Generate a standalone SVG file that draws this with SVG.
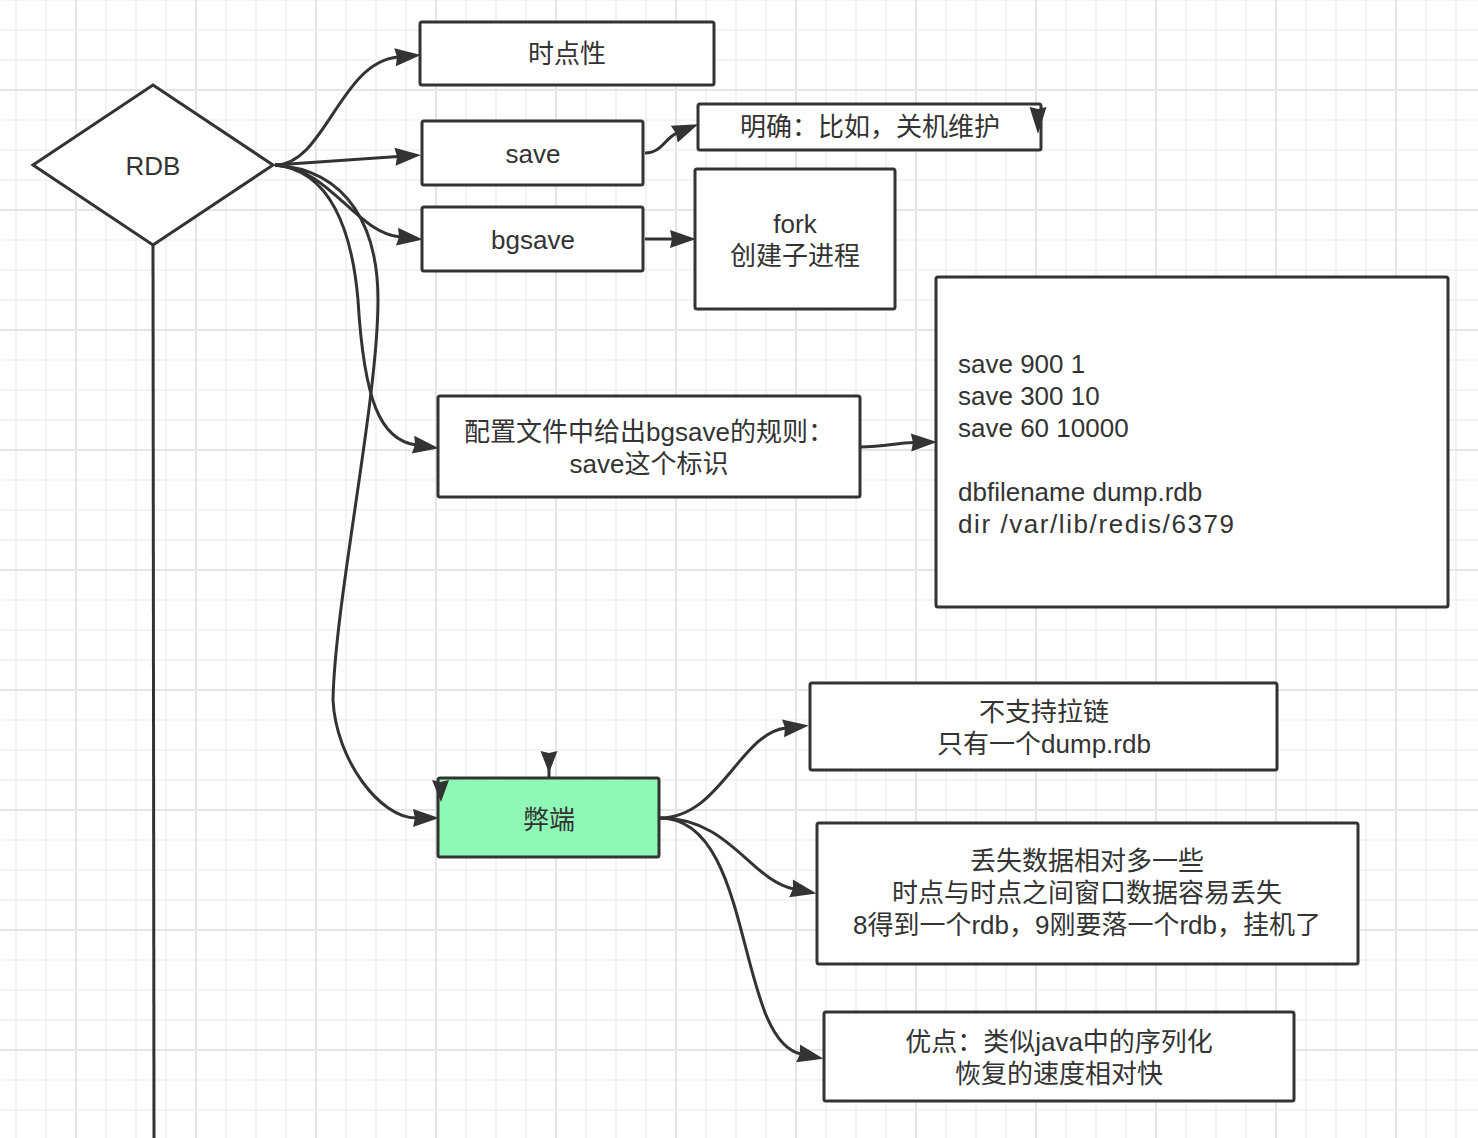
<svg xmlns="http://www.w3.org/2000/svg" width="1478" height="1138" viewBox="0 0 1478 1138">
<defs>
<pattern id="grid" width="120" height="120" patternUnits="userSpaceOnUse" x="1" y="-15">
<path d="M15,0V120M45,0V120M105,0V120M0,15H120M0,45H120M0,75H120" stroke="#efefef" stroke-width="1.5" fill="none"/>
<path d="M75,0V120M0,105H120" stroke="#e5e5e5" stroke-width="2" fill="none"/>
</pattern>
<marker id="arr" markerUnits="userSpaceOnUse" markerWidth="30" markerHeight="20" refX="3" refY="9" orient="auto" overflow="visible">
<path d="M0,0 L26,9 L0,18 L2,9 Z" fill="#333"/>
</marker>
<style>
.box{fill:#fff;stroke:#333;stroke-width:3}
.green{fill:#8ff8b6}
.t{font-family:"Liberation Sans","Noto Sans CJK SC",sans-serif;font-size:26px;fill:#333;text-anchor:middle}
.tl{text-anchor:start}
.c{fill:none;stroke:#333;stroke-width:3;marker-end:url(#arr)}
.ln{fill:none;stroke:#333;stroke-width:3}
.ah{fill:#333}
</style>
</defs>
<rect width="1478" height="1138" fill="#fff"/>
<rect width="1478" height="1138" fill="url(#grid)"/>

<g id="rdb">
<polygon class="box" points="33,165 153,85 273,165 153,245"/>
<text class="t" x="153" y="175">RDB</text>
</g>
<g id="shidianxing">
<rect class="box" x="420" y="22" width="294" height="63" rx="2"/>
<text class="t" x="567" y="63">时点性</text>
</g>
<g id="save">
<rect class="box" x="422" y="121" width="221" height="64" rx="2"/>
<text class="t" x="533" y="163">save</text>
</g>
<g id="bgsave">
<rect class="box" x="422" y="207" width="221" height="64" rx="2"/>
<text class="t" x="533" y="249">bgsave</text>
</g>
<g id="mingque">
<rect class="box" x="698" y="104" width="343" height="46" rx="2"/>
<text class="t" x="870" y="136">明确：比如，关机维护</text>
</g>
<g id="fork">
<rect class="box" x="695" y="169" width="200" height="140" rx="2"/>
<text class="t" x="795" y="233">fork</text>
<text class="t" x="795" y="265">创建子进程</text>
</g>
<g id="config">
<rect class="box" x="438" y="396" width="422" height="101" rx="2"/>
<text class="t" x="649" y="441">配置文件中给出bgsave的规则：</text>
<text class="t" x="649" y="473">save这个标识</text>
</g>
<g id="saveconf">
<rect class="box" x="936" y="277" width="512" height="330" rx="2"/>
<text class="t tl" x="958" y="373">save 900 1</text>
<text class="t tl" x="958" y="405">save 300 10</text>
<text class="t tl" x="958" y="437">save 60 10000</text>
<text class="t tl" x="958" y="501">dbfilename dump.rdb</text>
<text class="t tl" x="958" y="533" textLength="276" lengthAdjust="spacing">dir /var/lib/redis/6379</text>
</g>
<g id="biduan">
<rect class="box green" x="438" y="778" width="221" height="79" rx="2"/>
<text class="t" x="549" y="829">弊端</text>
</g>
<g id="lalian">
<rect class="box" x="810" y="683" width="467" height="87" rx="2"/>
<text class="t" x="1044" y="721">不支持拉链</text>
<text class="t" x="1044" y="753">只有一个dump.rdb</text>
</g>
<g id="diushi">
<rect class="box" x="817" y="823" width="541" height="141" rx="2"/>
<text class="t" x="1087" y="870">丢失数据相对多一些</text>
<text class="t" x="1087" y="902">时点与时点之间窗口数据容易丢失</text>
<text class="t" x="1087" y="934">8得到一个rdb，9刚要落一个rdb，挂机了</text>
</g>
<g id="youdian">
<rect class="box" x="824" y="1012" width="470" height="89" rx="2"/>
<text class="t" x="1059" y="1051">优点：类似java中的序列化</text>
<text class="t" x="1059" y="1083">恢复的速度相对快</text>
</g>

<g id="connectors">
<path class="ln" d="M153,245 L154,1138"/>
<path class="c" d="M275,165 C325,165 340,62 398,57"/>
<path class="c" d="M275,165 L398,156.5"/>
<path class="c" d="M275,165 C330,168 355,232 400,237"/>
<path class="c" d="M275,165 C330,170 352,230 358,300 C364,400 380,440 416,445"/>
<path class="c" d="M275,165 C350,170 378,230 378,300 C378,400 335,600 333,700 C336,760 380,818 416,818"/>
<path class="c" d="M645,153 C662,153 665,138 677,133"/>
<path class="c" d="M645,239 L673,239"/>
<path class="c" d="M860,447 C885,447 895,443 914,442.5"/>
<path class="c" d="M660,818 C720,818 740,733 786,728"/>
<path class="c" d="M660,818 C730,818 750,880 794,889"/>
<path class="c" d="M660,818 C755,818 735,1040 801,1054"/>
<polygon class="ah" points="1029.5,107 1038,109 1046.5,107 1038,134"/>
<path class="ln" d="M549,768 L549,778"/>
<polygon class="ah" points="540.5,751 549,753 557.5,751 549,773"/>
<polygon class="ah" points="432,780 440.5,782 449,780 441,802"/>
</g>
</svg>
